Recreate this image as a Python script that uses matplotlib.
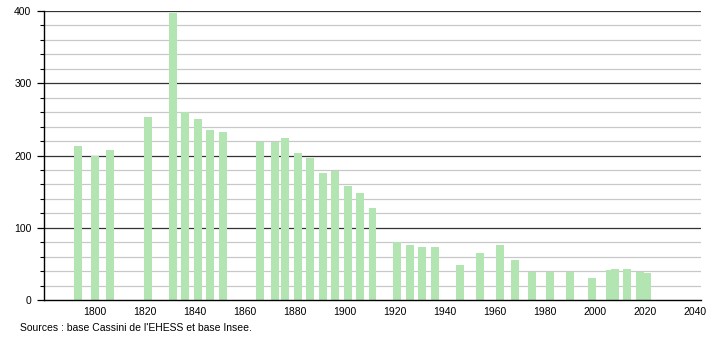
import matplotlib
matplotlib.use("Agg")
import matplotlib.pyplot as plt
from matplotlib.ticker import MultipleLocator

years = [1793, 1800, 1806, 1821, 1831, 1836, 1841, 1846, 1851, 1866, 1872, 1876,
         1881, 1886, 1891, 1896, 1901, 1906, 1911, 1921, 1926, 1931, 1936, 1946,
         1954, 1962, 1968, 1975, 1982, 1990, 1999, 2006, 2008, 2013, 2018, 2021]
population = [213, 200, 207, 253, 397, 260, 250, 235, 232, 219, 218, 224,
              203, 196, 176, 179, 158, 148, 127, 80, 76, 73, 73, 49,
              65, 76, 56, 39, 39, 39, 31, 41, 43, 43, 39, 38]
x_ticks = [1800, 1820, 1840, 1860, 1880, 1900, 1920, 1940, 1960, 1980, 2000, 2020, 2040]
y_ticks = [0, 100, 200, 300, 400]
source_text = "Sources : base Cassini de l'EHESS et base Insee."

plt.rcParams['font.family'] = ['Liberation Sans', 'DejaVu Sans']

fig = plt.figure(figsize=(7.1, 3.4), dpi=100)
ax = fig.add_axes([44/710, 40/340, (701-44)/710, (300-11)/340])

for v in range(20, 400, 20):
    if v % 100 == 0:
        continue
    ax.axhline(v, color='#c8c8c8', lw=0.9, zorder=0)
for v in y_ticks[1:]:
    ax.axhline(v, color='#333333', lw=0.9, zorder=0)

ax.bar(years, population, width=3.2, color='#b2e5b2', zorder=2)

ax.set_xlim(1779.5, 2042.5)
ax.set_ylim(0, 400)
ax.set_xticks(x_ticks)
ax.set_xticklabels([str(t) for t in x_ticks])
ax.set_yticks(y_ticks)
ax.yaxis.set_minor_locator(MultipleLocator(20))

for s in ['top', 'right']:
    ax.spines[s].set_visible(False)
ax.spines['left'].set_color('black')
ax.spines['bottom'].set_color('black')
ax.spines['left'].set_linewidth(1.0)
ax.spines['bottom'].set_linewidth(1.0)

ax.tick_params(axis='x', length=0, labelsize=7.5, pad=5, colors='black')
ax.tick_params(axis='y', which='major', length=5, width=0.9, labelsize=7.5, pad=4)
ax.tick_params(axis='y', which='minor', length=3, width=0.8)

fig.text(20/710, 1 - 328/340, source_text, fontsize=7.5, ha='left', va='center')

fig.savefig('out.png', dpi=100)
